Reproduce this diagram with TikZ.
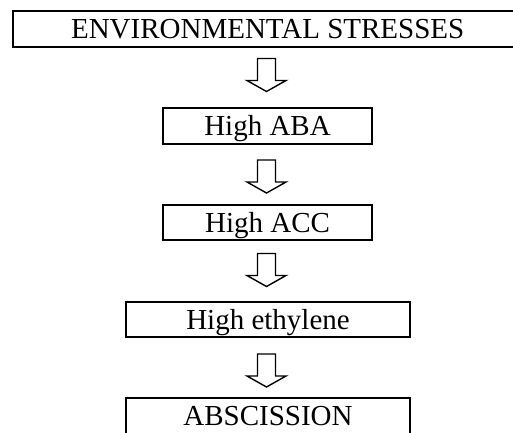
\documentclass[tikz,border=0pt]{standalone}
\usepackage{fontspec}
\setmainfont{Liberation Serif}
\tikzset{
  stagebox/.style={draw, line width=1.9pt, inner sep=0pt, anchor=center,
    text height=19.2pt, text depth=0pt,
    font=\fontsize{29}{31}\selectfont},
  blockarrow/.pic={
    \draw[line width=1.4pt, line join=miter]
      (-9,0) -- (9,0) -- (9,22) -- (19.5,22) -- (0,33) -- (-19.5,22) -- (-9,22) -- cycle;
  }
}
\begin{document}
\begin{tikzpicture}[x=1pt,y=-1pt]
\useasboundingbox (0,0) rectangle (513,432);
\node[stagebox, minimum width=510pt, minimum height=36pt] (env) at (267.7,28.7) {ENVIRONMENTAL STRESSES};
\node[stagebox, minimum width=209pt, minimum height=36pt] (aba) at (267.5,126) {High ABA};
\node[stagebox, minimum width=209pt, minimum height=35pt] (acc) at (267.5,222.5) {High ACC};
\node[stagebox, minimum width=284pt, minimum height=35pt] (eth) at (268,319.5) {High ethylene};
\node[stagebox, minimum width=284pt, minimum height=36pt] (abs) at (268,416) {ABSCISSION};
\coordinate (a1) at (266.5,58.5);
\coordinate (a2) at (266.5,160);
\coordinate (a3) at (266.5,253.5);
\coordinate (a4) at (266.5,354);
\pic at (a1) {blockarrow};
\pic at (a2) {blockarrow};
\pic at (a3) {blockarrow};
\pic at (a4) {blockarrow};
\end{tikzpicture}
\end{document}
